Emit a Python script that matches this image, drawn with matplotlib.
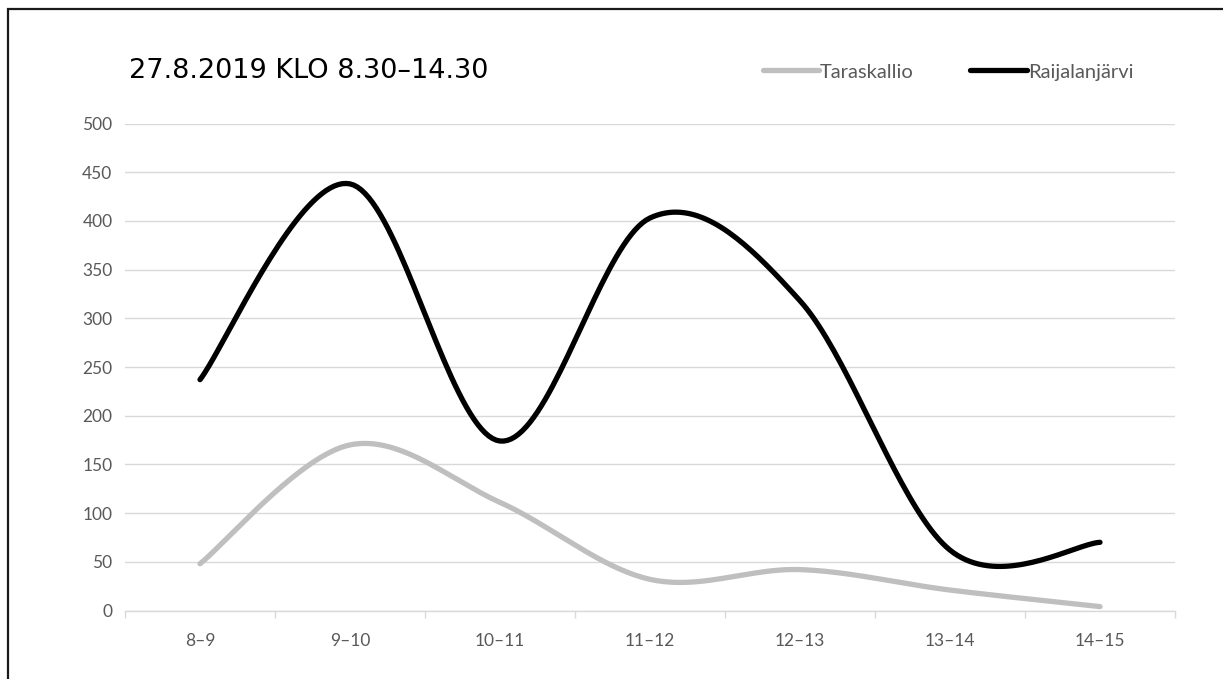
import numpy as np
import matplotlib
matplotlib.use("Agg")
import matplotlib.pyplot as plt
from matplotlib.lines import Line2D
from matplotlib.patches import Rectangle

# Hourly counts per site
hours = ["8–9", "9–10", "10–11", "11–12", "12–13", "13–14", "14–15"]
taraskallio = [48, 170, 111, 32, 42, 21, 4]
raijalanjarvi = [237, 438, 174, 403, 318, 62, 70]
title = "27.8.2019 KLO 8.30–14.30"
y_ticks = [0, 50, 100, 150, 200, 250, 300, 350, 400, 450, 500]


def smooth(values, n=40):
    """Catmull-Rom spline through the points (spreadsheet-style smoothing)."""
    p = np.asarray(values, dtype=float)
    x = np.arange(len(p), dtype=float)
    pe = np.concatenate([[p[0]], p, [p[-1]]])
    xe = np.concatenate([[x[0]], x, [x[-1]]])
    xs, ys = [], []
    for i in range(len(p) - 1):
        t = np.linspace(0, 1, n, endpoint=(i == len(p) - 2))
        p0, p1, p2, p3 = pe[i], pe[i + 1], pe[i + 2], pe[i + 3]
        x0, x1, x2, x3 = xe[i], xe[i + 1], xe[i + 2], xe[i + 3]
        m1 = (p2 - p0) / 2.0
        m2 = (p3 - p1) / 2.0
        mx1 = (x2 - x0) / 2.0
        mx2 = (x3 - x1) / 2.0
        h00 = 2 * t**3 - 3 * t**2 + 1
        h10 = t**3 - 2 * t**2 + t
        h01 = -2 * t**3 + 3 * t**2
        h11 = t**3 - t**2
        ys.append(h00 * p1 + h10 * m1 + h01 * p2 + h11 * m2)
        xs.append(h00 * x1 + h10 * mx1 + h01 * x2 + h11 * mx2)
    return np.concatenate(xs), np.concatenate(ys)


W, H = 1223, 679
fig = plt.figure(figsize=(W / 100, H / 100), dpi=100)
fig.patch.set_facecolor("white")

# outer chart frame (only top/left edges fall inside the image)
fig.patches.append(Rectangle((8 / W, -0.1), 1.2, 1 - 9 / H + 0.1,
                             transform=fig.transFigure, fill=False,
                             edgecolor="#1a1a1a", linewidth=1.6, zorder=0))

ax = fig.add_axes([125 / W, (H - 610.5) / H, 1050 / W, 487 / H])

grey = "#bfbfbf"
black = "#000000"
tx, ty = smooth(taraskallio)
rx, ry = smooth(raijalanjarvi)
ax.plot(tx, ty, color=grey, lw=3.8, solid_capstyle="round", zorder=3)
ax.plot(rx, ry, color=black, lw=3.8, solid_capstyle="round", zorder=4)

ax.set_xlim(-0.5, len(hours) - 0.5)
ax.set_ylim(0, 500)
ax.set_yticks(y_ticks)
ax.set_yticklabels([str(v) for v in y_ticks])
ax.set_xticks(range(len(hours)))
ax.set_xticklabels(hours)
ax.set_xticks(np.arange(-0.5, len(hours), 1.0), minor=True)

ax.grid(axis="y", color="#d9d9d9", linewidth=1.0, zorder=0)
ax.set_axisbelow(True)
for s in ["top", "right", "left"]:
    ax.spines[s].set_visible(False)
ax.spines["bottom"].set_color("#d9d9d9")
ax.spines["bottom"].set_linewidth(1.0)

ax.tick_params(axis="y", length=0, pad=9, labelsize=12.5, labelcolor="#595959")
ax.tick_params(axis="x", which="major", length=0, pad=16, labelsize=12.5,
               labelcolor="#595959")
ax.tick_params(axis="x", which="minor", length=5, width=1.0, color="#d9d9d9")
for lab in ax.get_xticklabels() + ax.get_yticklabels():
    lab.set_family("Lato")

fig.text(129 / W, 1 - 78 / H, title, fontsize=19.5, family="DejaVu Sans",
         color="#000000", ha="left", va="baseline")

handles = [Line2D([], [], color=grey, lw=3.8, solid_capstyle="round"),
           Line2D([], [], color=black, lw=3.8, solid_capstyle="round")]
fig.legend(handles, ["Taraskallio", "Raijalanjärvi"], loc="center",
           bbox_to_anchor=(948 / W, 1 - 72 / H), ncol=2, frameon=False,
           prop={"family": "Lato", "size": 14.5}, labelcolor="#595959",
           handlelength=2.8, handletextpad=0.05, columnspacing=2.8)

fig.savefig("out.png", dpi=100, facecolor="white")
